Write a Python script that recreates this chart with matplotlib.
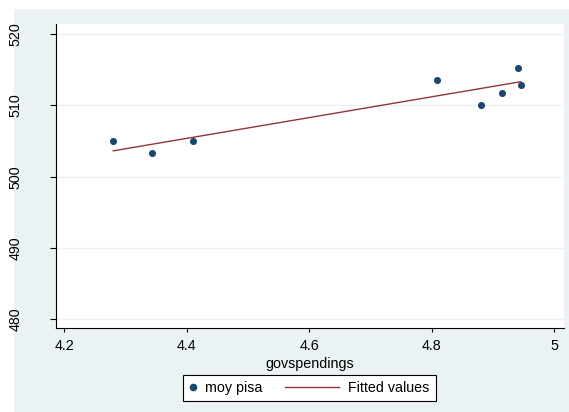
import numpy as np
import matplotlib
matplotlib.use("Agg")
import matplotlib.pyplot as plt
from matplotlib.patches import Rectangle
from matplotlib.lines import Line2D
from matplotlib.legend_handler import HandlerLine2D

plt.rcParams['font.family'] = ['Liberation Sans', 'DejaVu Sans']

# data
govspendings = [4.280, 4.344, 4.410, 4.808, 4.880, 4.914, 4.940, 4.945]
moy_pisa = [505.0, 503.3, 505.0, 513.5, 510.0, 511.8, 515.3, 512.9]
yticks = [480, 490, 500, 510, 520]
xticks = [4.2, 4.4, 4.6, 4.8, 5.0]
xticklabels = ["4.2", "4.4", "4.6", "4.8", "5"]

navy = "#1A476F"
maroon = "#90353B"
bg = "#EAF2F3"
FS = 10.3

W, H = 569, 412
fig = plt.figure(figsize=(W / 100, H / 100), dpi=100)
fig.patch.set_facecolor("white")
fig.patches.append(Rectangle((14 / W, 0), 1 - 14 / W, 1 - 9 / H, transform=fig.transFigure,
                             facecolor=bg, edgecolor="none", zorder=-10))

ax = fig.add_axes([55.7 / W, 1 - 328 / H, (563.7 - 55.7) / W, (328 - 24) / H])
ax.set_facecolor("white")

x = np.array(govspendings)
y = np.array(moy_pisa)
coef = np.polyfit(x, y, 1)
xs = np.sort(x)
fit = np.polyval(coef, xs)

ax.plot(xs, fit, color=maroon, lw=1.0, zorder=2, label="Fitted values")
ax.scatter(x, y, s=26, color=navy, zorder=3, linewidths=0, label="moy pisa")

ax.set_xlim(4.186, 5.0153)
ax.set_ylim(478.8, 521.4)
ax.set_yticks(yticks)
ax.set_yticklabels([str(v) for v in yticks], rotation=90, va="center")
ax.set_xticks(xticks)
ax.set_xticklabels(xticklabels)
ax.tick_params(axis="y", length=4, width=0.8, pad=20, labelsize=FS)
ax.tick_params(axis="x", length=3, width=0.8, pad=5, labelsize=FS)
ax.grid(axis="y", color=bg, lw=1.0)
ax.set_axisbelow(True)
for s in ["top", "right"]:
    ax.spines[s].set_visible(False)
for s in ["left", "bottom"]:
    ax.spines[s].set_linewidth(0.8)
ax.set_xlabel("govspendings", fontsize=FS, labelpad=2.5)


class LongLine(HandlerLine2D):
    def create_artists(self, legend, orig_handle, xdescent, ydescent, width, height, fontsize, trans):
        yc = height / 2 - ydescent
        ln = Line2D([-xdescent - 3.3 * fontsize, -xdescent + width], [yc, yc],
                    color=maroon, lw=1.0)
        ln.set_transform(trans)
        return [ln]


h_pt = Line2D([], [], marker="o", ls="none", color=navy, markersize=5.5, markeredgewidth=0)
h_ln = Line2D([], [], color=maroon, lw=1.0)
leg = fig.legend([h_pt, h_ln], ["moy pisa", "Fitted values"], ncol=2,
                 loc="center", bbox_to_anchor=(309.5 / W, 1 - 388 / H),
                 bbox_transform=fig.transFigure, fontsize=FS,
                 handlelength=0.45, handletextpad=0.64, columnspacing=4.85,
                 borderpad=0.45, fancybox=False, framealpha=1, edgecolor="black",
                 handler_map={h_ln: LongLine()})
leg.get_frame().set_linewidth(0.8)

fig.savefig("out.png", dpi=100, facecolor=fig.get_facecolor())
